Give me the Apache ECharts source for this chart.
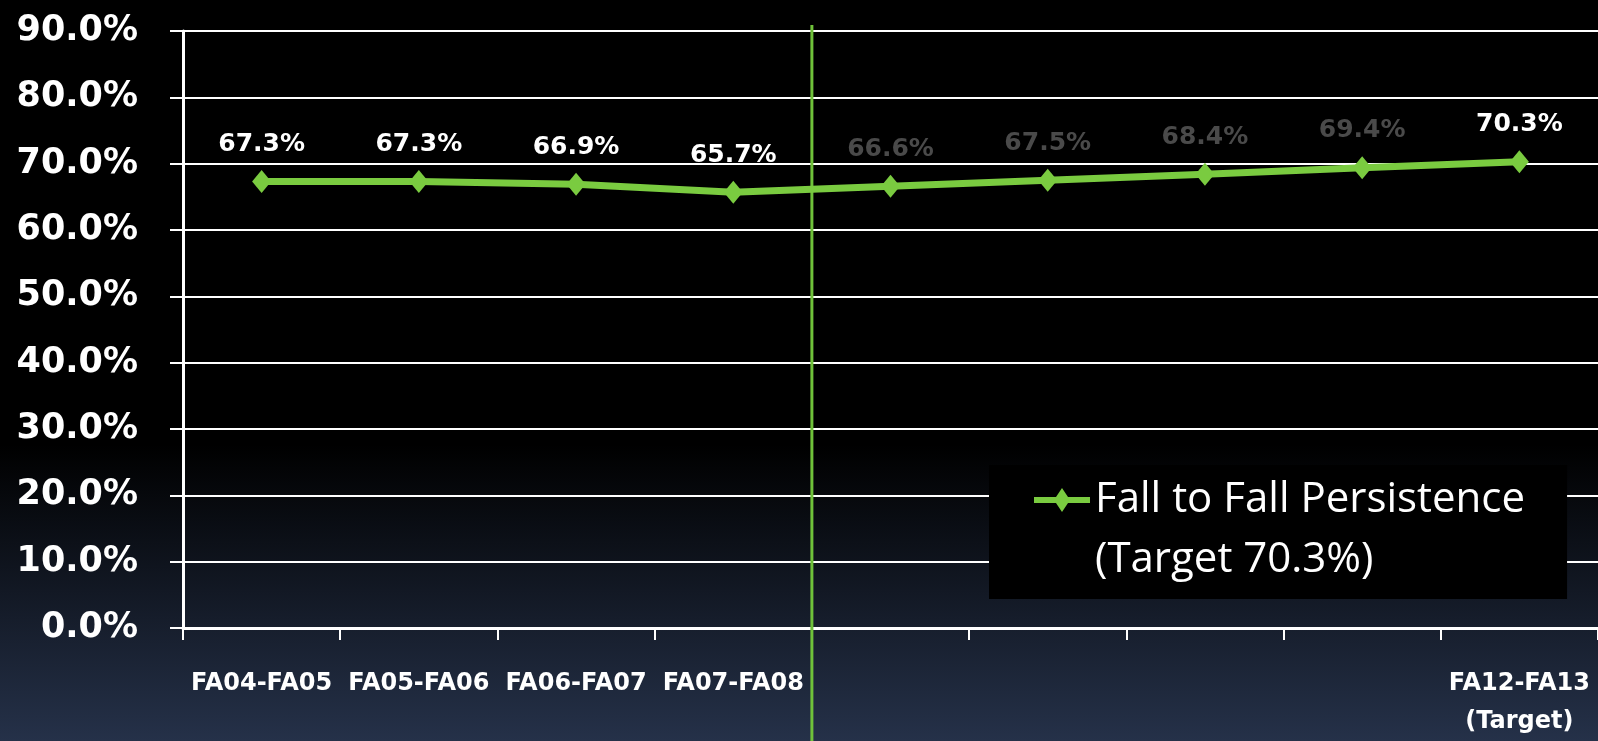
<!DOCTYPE html>
<html>
<head>
<meta charset="utf-8">
<script src="https://cdn.jsdelivr.net/npm/echarts@6/dist/echarts.min.js"></script>
<style>
  html, body { margin: 0; padding: 0; background: #000; }
  #chart { width: 1598px; height: 741px; }
</style>
</head>
<body>
<div id="chart"></div>
<script>
// categories: the middle four have no label in the original
const categories = ['FA04-FA05', 'FA05-FA06', 'FA06-FA07', 'FA07-FA08', '', '', '', '', 'FA12-FA13\n(Target)'];
const persistence = [67.3, 67.3, 66.9, 65.7, 66.6, 67.5, 68.4, 69.4, 70.3];
const seriesName = 'Fall to Fall Persistence (Target 70.3%)';
const legendLines = ['Fall to Fall Persistence', '(Target 70.3%)'];
const yMin = 0, yMax = 90, yStep = 10;
// points after the divider up to the target are faint in the original
const faintLabels = [4, 5, 6, 7];

const GREEN = '#7acb40';
const chart = echarts.init(document.getElementById('chart'));

chart.setOption({
  animation: false,
  backgroundColor: {
    type: 'linear', x: 0, y: 0, x2: 0, y2: 1,
    colorStops: [
      { offset: 0, color: '#000000' },
      { offset: 0.6, color: '#000000' },
      { offset: 1, color: '#253149' }
    ]
  },
  grid: { left: 183, right: 0, top: 31, bottom: 109 },
  xAxis: {
    type: 'category',
    data: categories,
    boundaryGap: true,
    axisLine: { lineStyle: { color: '#fff', width: 3 } },
    axisTick: { show: true, length: 12, lineStyle: { color: '#fff', width: 2 } },
    axisLabel: {
      color: '#fff', fontFamily: 'DejaVu Sans', fontWeight: 'bold',
      fontSize: 24, lineHeight: 38, margin: 37, interval: 0
    },
    splitLine: { show: false }
  },
  yAxis: {
    type: 'value',
    min: yMin, max: yMax, interval: yStep,
    axisLine: { show: true, lineStyle: { color: '#fff', width: 3 } },
    axisTick: { show: true, length: 13, lineStyle: { color: '#fff', width: 2 } },
    axisLabel: {
      color: '#fff', fontFamily: 'DejaVu Sans', fontWeight: 'bold',
      fontSize: 35, margin: 45,
      formatter: v => v.toFixed(1) + '%'
    },
    splitLine: { lineStyle: { color: '#fff', width: 2 } }
  },
  legend: {
    left: 989, top: 465,
    orient: 'vertical',
    backgroundColor: '#000',
    padding: [5, 42, 9, 45],
    selectedMode: false,
    itemWidth: 56, itemHeight: 120,
    symbolKeepAspect: false,
    data: [{
      name: seriesName,
      icon: 'path://M0,0M0,120M0,27L56,27L56,33L0,33ZM28,18L36,30L28,42L20,30Z',
      itemStyle: { color: GREEN, borderWidth: 0 }
    }],
    formatter: () => legendLines.join('\n'),
    textStyle: { color: '#fff', fontFamily: 'Open Sans', fontSize: 42, lineHeight: 60 }
  },
  series: [{
    name: seriesName,
    type: 'line',
    data: persistence.map((v, i) => ({
      value: v,
      label: faintLabels.includes(i) ? { color: '#4a4a4a' } : {}
    })),
    symbol: 'diamond',
    symbolSize: [19, 23],
    lineStyle: { color: GREEN, width: 7 },
    itemStyle: { color: GREEN },
    label: {
      show: true, position: 'top', distance: 13,
      color: '#fff', fontFamily: 'DejaVu Sans', fontWeight: 'bold', fontSize: 25,
      formatter: p => p.value.toFixed(1) + '%'
    },
    z: 3
  }]
});

// divider between FA07-FA08 and the projected years, at the category boundary
const xa = chart.convertToPixel({ xAxisIndex: 0 }, 3);
const xb = chart.convertToPixel({ xAxisIndex: 0 }, 4);
const xDiv = (xa + xb) / 2;
chart.setOption({
  graphic: [{
    type: 'line',
    shape: { x1: xDiv, y1: 25, x2: xDiv, y2: 741 },
    style: { stroke: '#6fc23a', lineWidth: 3 },
    z: 2
  }]
});
</script>
</body>
</html>
